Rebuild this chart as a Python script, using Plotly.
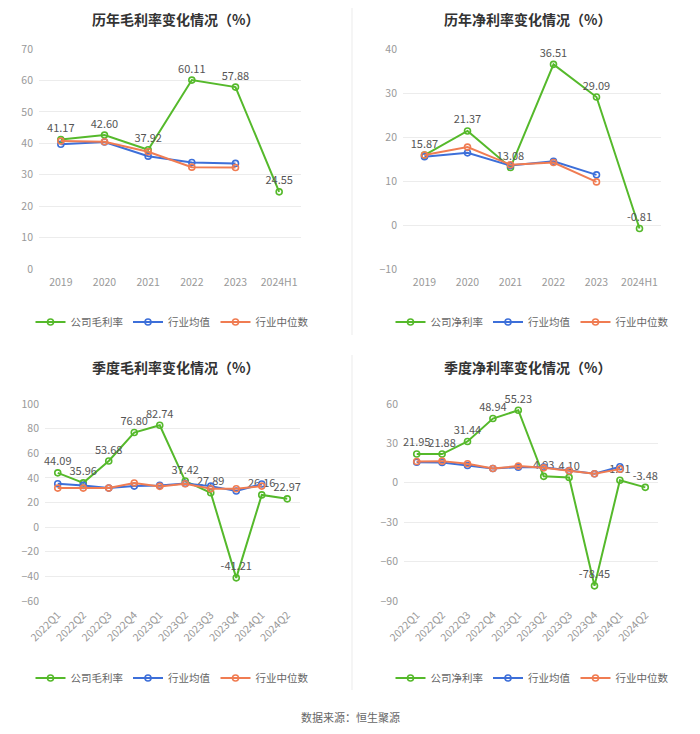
import plotly.graph_objects as go

years = ["2019", "2020", "2021", "2022", "2023", "2024H1"]
quarters = ["2022Q1", "2022Q2", "2022Q3", "2022Q4", "2023Q1",
            "2023Q2", "2023Q3", "2023Q4", "2024Q1", "2024Q2"]

gm_company = [41.17, 42.60, 37.92, 60.11, 57.88, 24.55]
gm_ind_avg = [39.7, 40.4, 35.9, 33.9, 33.6, None]
gm_ind_med = [40.7, 40.5, 37.3, 32.4, 32.3, None]

nm_company = [15.87, 21.37, 13.08, 36.51, 29.09, -0.81]
nm_ind_avg = [15.5, 16.4, 13.5, 14.5, 11.4, None]
nm_ind_med = [15.9, 17.7, 13.7, 14.2, 9.8, None]

qgm_company = [44.09, 35.96, 53.68, 76.80, 82.74, 37.42, 27.89, -41.21, 26.16, 22.97]
qgm_ind_avg = [35.2, 33.9, 31.7, 33.3, 33.9, 35.5, 33.3, 29.3, 35.0, None]
qgm_ind_med = [31.7, 31.7, 31.7, 35.8, 33.1, 35.2, 31.2, 31.2, 33.3, None]

qnm_company = [21.95, 21.88, 31.44, 48.94, 55.23, 4.93, 4.10, -78.45, 1.91, -3.48]
qnm_ind_avg = [15.7, 15.5, 13.2, 10.9, 11.9, 11.9, 9.4, 6.9, 12.2, None]
qnm_ind_med = [16.2, 16.5, 14.5, 10.9, 12.7, 11.4, 9.1, 6.9, 10.4, None]

titles = ["历年毛利率变化情况（%）", "历年净利率变化情况（%）",
          "季度毛利率变化情况（%）", "季度净利率变化情况（%）"]
company_names = ["公司毛利率", "公司净利率", "公司毛利率", "公司净利率"]

# the page body has an 8px margin, so the figure is 8px smaller and offset
OFF = 8
W, H = 700 - OFF, 734 - OFF
FONT = "Noto Sans CJK SC"
GREEN = "#55b92b"
BLUE = "#3d6fd9"
ORANGE = "#f07c52"

def fx(px):
    return (px - OFF) / W

def fy(py):
    return 1 - (py - OFF) / H

panels = [
    dict(cats=years, comp=gm_company, avg=gm_ind_avg, med=gm_ind_med,
         xd=[fx(39), fx(301)], yd=[fy(269), fy(49)], yr=[0, 70], dt=10, angle=0,
         title_x=175, title_top=8, leg_x=172, leg_y=322),
    dict(cats=years, comp=nm_company, avg=nm_ind_avg, med=nm_ind_med,
         xd=[fx(403), fx(661)], yd=[fy(269), fy(49)], yr=[-10, 40], dt=10, angle=0,
         title_x=527, title_top=8, leg_x=532, leg_y=322),
    dict(cats=quarters, comp=qgm_company, avg=qgm_ind_avg, med=qgm_ind_med,
         xd=[fx(45), fx(300)], yd=[fy(601), fy(404)], yr=[-60, 100], dt=20, angle=-45,
         title_x=175, title_top=356, leg_x=172, leg_y=678),
    dict(cats=quarters, comp=qnm_company, avg=qnm_ind_avg, med=qnm_ind_med,
         xd=[fx(404), fx(658)], yd=[fy(601), fy(404)], yr=[-90, 60], dt=30, angle=-45,
         title_x=527, title_top=356, leg_x=532, leg_y=678),
]

fig = go.Figure()
layout = dict(
    width=W, height=H, margin=dict(l=0, r=0, t=0, b=0, autoexpand=False),
    paper_bgcolor="white", plot_bgcolor="white",
    font=dict(family=FONT, size=10, color="#999999"),
    showlegend=True, annotations=[], shapes=[],
)

for i, p in enumerate(panels):
    n = i + 1
    sfx = "" if n == 1 else str(n)
    xa, ya = "x" + sfx, "y" + sfx
    leg = "legend" + sfx
    m = dict(symbol="circle-open", size=6, line=dict(width=1.6))
    fig.add_trace(go.Scatter(
        x=p["cats"], y=p["comp"], mode="lines+markers+text",
        name=company_names[i], legend=leg, xaxis=xa, yaxis=ya,
        line=dict(color=GREEN, width=2), marker=dict(color=GREEN, **m),
        text=[f"{v:.2f}" for v in p["comp"]], textposition="top center",
        textfont=dict(family=FONT, size=11, color="#555555"),
        cliponaxis=False,
    ))
    fig.add_trace(go.Scatter(
        x=p["cats"], y=p["avg"], mode="lines+markers", name="行业均值",
        legend=leg, xaxis=xa, yaxis=ya,
        line=dict(color=BLUE, width=2), marker=dict(color=BLUE, **m),
        cliponaxis=False,
    ))
    fig.add_trace(go.Scatter(
        x=p["cats"], y=p["med"], mode="lines+markers", name="行业中位数",
        legend=leg, xaxis=xa, yaxis=ya,
        line=dict(color=ORANGE, width=2), marker=dict(color=ORANGE, **m),
        cliponaxis=False,
    ))
    ncat = len(p["cats"])
    layout["xaxis" + sfx] = dict(
        domain=p["xd"], anchor=ya, type="category", categoryarray=p["cats"],
        range=[-0.5, ncat - 0.5], showgrid=False, zeroline=False,
        showline=False, ticks="", tickangle=p["angle"],
        tickfont=dict(family=FONT, size=10.5, color="#999999"),
        ticklabelstandoff=5,
    )
    layout["yaxis" + sfx] = dict(
        domain=p["yd"], anchor=xa, range=p["yr"], dtick=p["dt"],
        tick0=0, showgrid=True, gridcolor="#ececec", gridwidth=1,
        zeroline=False, showline=False, ticks="",
        tickfont=dict(family=FONT, size=10.5, color="#999999"),
        ticklabelstandoff=5,
    )
    # axis line with ticks at value zero
    r0, r1 = p["yr"]
    pos = p["yd"][0] + (0 - r0) / (r1 - r0) * (p["yd"][1] - p["yd"][0])
    layout["xaxis" + str(n + 4)] = dict(
        overlaying=xa, anchor="free", position=pos, type="linear",
        range=[-0.5, ncat - 0.5], tickmode="array",
        tickvals=list(range(ncat)), showticklabels=False, showgrid=False,
        zeroline=False, showline=True, linecolor="#999999", linewidth=1,
        ticks="outside", ticklen=5, tickcolor="#999999",
    )
    layout[leg] = dict(
        orientation="h", x=fx(p["leg_x"]), xanchor="center",
        y=fy(p["leg_y"]), yanchor="middle",
        font=dict(family=FONT, size=10.5, color="#666666"),
        bgcolor="rgba(0,0,0,0)", itemwidth=30, tracegroupgap=0,
    )
    layout["annotations"].append(dict(
        text="<b>" + titles[i] + "</b>", xref="paper", yref="paper",
        x=fx(p["title_x"]), y=fy(p["title_top"]), xanchor="center",
        yanchor="top", showarrow=False, borderpad=0,
        font=dict(family=FONT, size=14, color="#333333"),
    ))

layout["annotations"].append(dict(
    text="数据来源：恒生聚源", xref="paper", yref="paper",
    x=fx(350), y=fy(717), xanchor="center", yanchor="middle",
    showarrow=False, font=dict(family=FONT, size=11, color="#666666"),
))
layout["shapes"] = [
    dict(type="line", xref="paper", yref="paper", x0=fx(352), x1=fx(352),
         y0=fy(335), y1=1.0, line=dict(color="#f2f2f2", width=1.5)),
    dict(type="line", xref="paper", yref="paper", x0=fx(352), x1=fx(352),
         y0=fy(690), y1=fy(355), line=dict(color="#f2f2f2", width=1.5)),
]

fig.update_layout(**layout)
fig.write_html("out.html")
